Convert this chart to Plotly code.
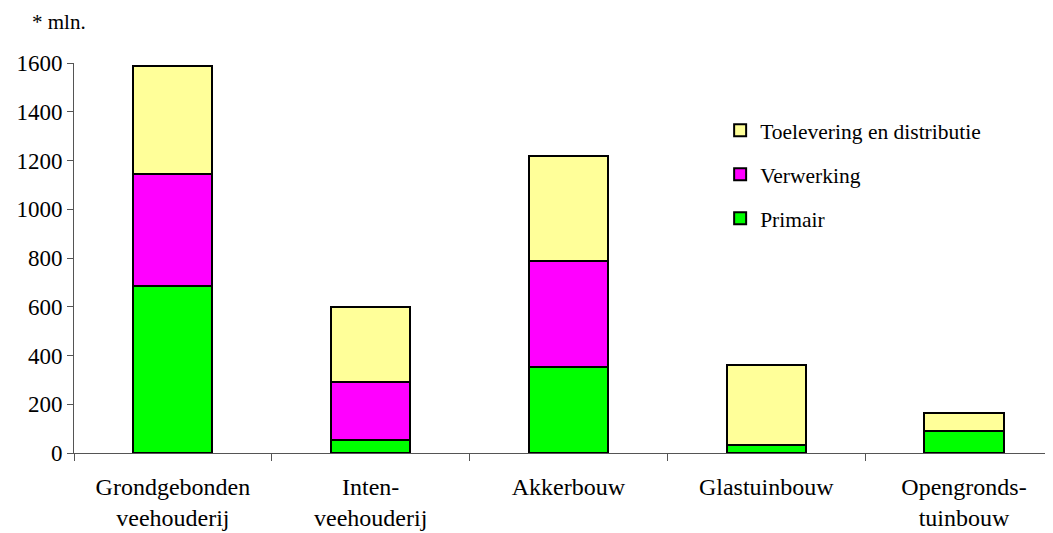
import plotly.graph_objects as go

categories = ["Grondgebonden<br>veehouderij", "Inten-<br>veehouderij", "Akkerbouw",
              "Glastuinbouw", "Opengronds-<br>tuinbouw"]
primair = [685, 53, 353, 33, 90]
verwerking = [460, 238, 435, 0, 0]
toelevering = [443, 308, 430, 328, 74]

series = [
    ("Primair", primair, "#00FF00", 3),
    ("Verwerking", verwerking, "#FF00FF", 2),
    ("Toelevering en distributie", toelevering, "#FFFF99", 1),
]

font_family = "'Liberation Serif', 'Times New Roman', Times, serif"

fig = go.Figure()
for i, (name, vals, color, rank) in enumerate(series):
    fig.add_trace(go.Bar(
        x=categories, y=vals, name=name,
        marker=dict(color=color, line=dict(color="black", width=2)),
        width=0.4, legendgroup=f"g{i}", legendrank=rank,
    ))

fig.update_layout(
    barmode="stack",
    width=1053, height=533,
    margin=dict(l=64, r=8, t=55, b=88),
    paper_bgcolor="white", plot_bgcolor="white",
    font=dict(family=font_family, size=22, color="black"),
    showlegend=True,
    legend=dict(
        traceorder="grouped", tracegroupgap=13,
        x=0.66, y=0.88, xanchor="left", yanchor="top",
        font=dict(size=21.5), bgcolor="rgba(0,0,0,0)",
    ),
    xaxis=dict(
        range=[-0.5, 4.45], showline=True, linecolor="#555555", linewidth=1,
        ticks="outside", ticklen=7, tickcolor="#555555", tickson="boundaries",
        showgrid=False, tickfont=dict(size=24), ticklabelstandoff=12,
    ),
    yaxis=dict(
        range=[0, 1600], dtick=200, showline=True, linecolor="#555555", linewidth=1,
        ticks="outside", ticklen=6, tickcolor="#555555", showgrid=False,
        zeroline=False, tickfont=dict(size=23),
    ),
    annotations=[dict(
        text="* mln.", xref="paper", yref="paper", x=-0.045, y=1.106,
        xanchor="left", yanchor="middle", showarrow=False, font=dict(size=21),
    )],
)

fig.write_html("out.html")
